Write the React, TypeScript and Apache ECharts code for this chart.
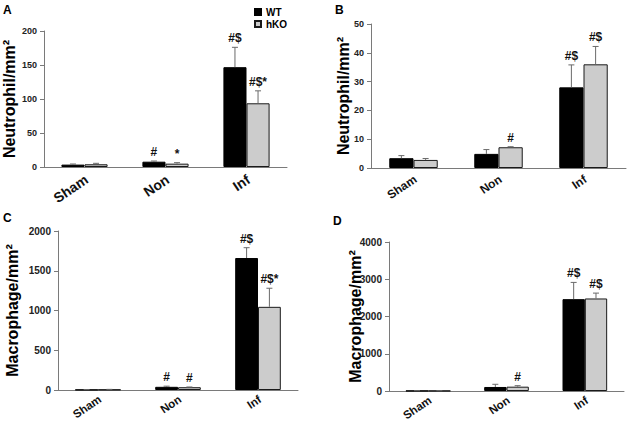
import React, { useEffect, useRef } from "react";
import * as echarts from "echarts";

const categories = ["Sham", "Non", "Inf"];
const groupNames = ["WT", "hKO"];

// Panel A – Neutrophil/mm² (scale 0–200)
const aWT = [3.5, 7.8, 146.8];
const aWTErrTop = [4.4, 8.8, 176];
const aKO = [4.0, 4.9, 93.7];
const aKOErrTop = [5.4, 6.4, 112];
const aWTMarks = ["", "#", "#$"];
const aKOMarks = ["", "*", "#$*"];

// Panel B – Neutrophil/mm² (scale 0–50)
const bWT = [3.4, 4.9, 28.0];
const bWTErrTop = [4.3, 6.4, 35.8];
const bKO = [2.8, 7.2, 36.0];
const bKOErrTop = [3.3, 7.4, 42.2];
const bWTMarks = ["", "", "#$"];
const bKOMarks = ["", "#", "#$"];

// Panel C – Macrophage/mm² (scale 0–2000)
const cWT = [3, 40, 1660];
const cWTErrTop = [5, 48, 1790];
const cKO = [5, 35, 1046];
const cKOErrTop = [8, 38, 1280];
const cWTMarks = ["", "#", "#$"];
const cKOMarks = ["", "#", "#$*"];

// Panel D – Macrophage/mm² (scale 0–4000)
const dWT = [5, 108, 2466];
const dWTErrTop = [8, 180, 2915];
const dKO = [5, 116, 2484];
const dKOErrTop = [8, 143, 2628];
const dWTMarks = ["", "", "#$"];
const dKOMarks = ["", "#", "#$"];

const yTitles = ["Neutrophil/mm²", "Neutrophil/mm²", "Macrophage/mm²", "Macrophage/mm²"];
const yMax = [200, 50, 2000, 4000];
const yInterval = [50, 10, 500, 1000];
const panelLetters = ["A", "B", "C", "D"];

const FONT = "'Liberation Sans', Arial, Helvetica, sans-serif";
const GAP = 0.43;
const LABEL_ANGLE = (34 * Math.PI) / 180;

const panelsData = [
  { wt: aWT, wtErr: aWTErrTop, ko: aKO, koErr: aKOErrTop, wtMarks: aWTMarks, koMarks: aKOMarks },
  { wt: bWT, wtErr: bWTErrTop, ko: bKO, koErr: bKOErrTop, wtMarks: bWTMarks, koMarks: bKOMarks },
  { wt: cWT, wtErr: cWTErrTop, ko: cKO, koErr: cKOErrTop, wtMarks: cWTMarks, koMarks: cKOMarks },
  { wt: dWT, wtErr: dWTErrTop, ko: dKO, koErr: dKOErrTop, wtMarks: dWTMarks, koMarks: dKOMarks },
];

// layout (pixels)
const grids = [
  { left: 44, top: 31, width: 243, height: 136 },
  { left: 371, top: 24, width: 255, height: 144 },
  { left: 58, top: 231, width: 240, height: 159 },
  { left: 389, top: 242, width: 235, height: 149 },
];
const nameGaps = [27, 20, 38, 26];
const tickFont = [9, 9, 10, 10];
const catFont = [14, 12, 11.5, 11.5];
const catOffset = [11, 10, 8, 8];
const letterPos = [
  [3, 11],
  [335, 11],
  [3, 219],
  [333, 222],
];

function buildOption() {
  const series: any[] = [];
  const xAxis: any[] = [];
  const yAxis: any[] = [];
  panelsData.forEach((p, i) => {
    xAxis.push({
      type: "category",
      gridIndex: i,
      data: categories,
      axisTick: { show: false },
      axisLine: { lineStyle: { color: "#7a7a7a", width: 1 } },
      axisLabel: { show: false },
    });
    yAxis.push({
      type: "value",
      gridIndex: i,
      min: 0,
      max: yMax[i],
      interval: yInterval[i],
      splitLine: { show: false },
      axisLine: { show: true, lineStyle: { color: "#7a7a7a", width: 1 } },
      axisTick: { show: true, inside: false, length: 4, lineStyle: { color: "#7a7a7a" } },
      axisLabel: {
        margin: 7,
        fontFamily: FONT,
        fontWeight: "bold",
        fontSize: tickFont[i],
        color: "#222",
        formatter: (v: number) => String(v),
      },
      name: yTitles[i],
      nameLocation: "middle",
      nameGap: nameGaps[i],
      nameMoveOverlap: false,
      nameTextStyle: { fontFamily: FONT, fontWeight: "bold", fontSize: 16, color: "#000" },
    });
    series.push({
      name: "WT",
      type: "bar",
      xAxisIndex: i,
      yAxisIndex: i,
      data: p.wt,
      barGap: 0,
      barCategoryGap: GAP * 100 + "%",
      itemStyle: { color: "#000000", borderColor: "#000000", borderWidth: 1 },
    });
    series.push({
      name: "hKO",
      type: "bar",
      xAxisIndex: i,
      yAxisIndex: i,
      data: p.ko,
      barGap: 0,
      barCategoryGap: GAP * 100 + "%",
      itemStyle: { color: "#cccccc", borderColor: "#1a1a1a", borderWidth: 1 },
    });
    const errData: number[][] = [];
    const marks: string[] = [];
    categories.forEach((_, c) => {
      errData.push([c, p.wt[c], p.wtErr[c], 0]);
      marks.push(p.wtMarks[c]);
      errData.push([c, p.ko[c], p.koErr[c], 1]);
      marks.push(p.koMarks[c]);
    });
    series.push({
      name: "err" + i,
      type: "custom",
      xAxisIndex: i,
      yAxisIndex: i,
      data: errData,
      encode: { x: 0, y: 1 },
      clip: false,
      z: 5,
      renderItem: (params: any, api: any) => {
        const cat = api.value(0);
        const val = api.value(1);
        const top = api.value(2);
        const s = api.value(3);
        const band = api.size([1, 0])[0];
        const bw = (band * (1 - GAP)) / 2;
        const p0 = api.coord([cat, val]);
        const p1 = api.coord([cat, top]);
        const x = p0[0] + (s === 0 ? -bw / 2 : bw / 2);
        const stroke = { stroke: "#6a6a6a", lineWidth: 1 };
        const children: any[] = [
          { type: "line", shape: { x1: x, y1: p0[1], x2: x, y2: p1[1] }, style: stroke },
          { type: "line", shape: { x1: x - 3, y1: p1[1], x2: x + 3, y2: p1[1] }, style: stroke },
        ];
        const m = marks[params.dataIndex];
        if (m) {
          children.push({
            type: "text",
            x: x,
            y: p1[1] - 3,
            style: {
              text: m,
              fontFamily: FONT,
              fontWeight: "bold",
              fontSize: 12,
              fill: "#111",
              align: "center",
              verticalAlign: "bottom",
            },
          });
        }
        return { type: "group", children };
      },
    });
    // slanted category labels
    series.push({
      name: "cat" + i,
      type: "custom",
      xAxisIndex: i,
      yAxisIndex: i,
      data: categories.map((_, c) => [c, 0]),
      encode: { x: 0, y: 1 },
      clip: false,
      silent: true,
      renderItem: (params: any, api: any) => {
        const c = api.value(0);
        const pt = api.coord([c, 0]);
        return {
          type: "text",
          x: pt[0] + 2,
          y: pt[1] + catOffset[i],
          rotation: LABEL_ANGLE,
          style: {
            text: categories[c],
            fontFamily: FONT,
            fontWeight: "bold",
            fontSize: catFont[i],
            fill: "#111",
            align: "right",
            verticalAlign: "middle",
          },
        };
      },
    });
  });

  return {
    animation: false,
    backgroundColor: "#ffffff",
    grid: grids.map((g) => ({ ...g, containLabel: false })),
    xAxis,
    yAxis,
    legend: {
      data: groupNames,
      orient: "vertical",
      left: 254,
      top: 6,
      padding: 0,
      itemWidth: 6,
      itemHeight: 6,
      itemGap: 0,
      icon: "rect",
      textStyle: { fontFamily: FONT, fontWeight: "bold", fontSize: 10, color: "#000", lineHeight: 12 },
    },
    graphic: panelLetters.map((l, i) => ({
      type: "text",
      left: letterPos[i][0],
      top: letterPos[i][1] - 7,
      style: { text: l, fontFamily: FONT, fontWeight: "bold", fontSize: 12, fill: "#000" },
    })),
    series,
  };
}

export default function App() {
  const ref = useRef<HTMLDivElement>(null);
  useEffect(() => {
    if (!ref.current) return;
    const chart = echarts.init(ref.current, undefined, { renderer: "svg" });
    chart.setOption(buildOption() as any);
    return () => chart.dispose();
  }, []);
  return (
    <div
      ref={ref}
      style={{ position: "fixed", left: 0, top: 0, width: 628, height: 421, background: "#fff" }}
    />
  );
}
